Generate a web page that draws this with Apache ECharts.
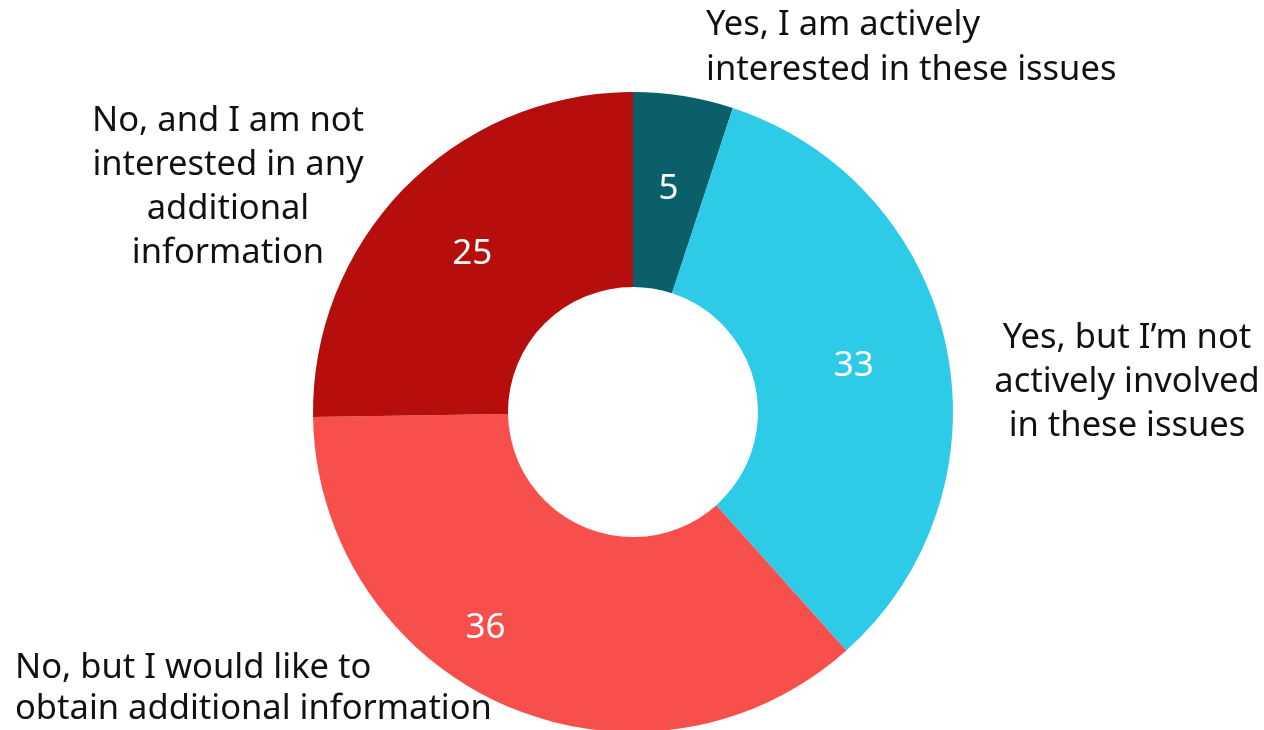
<!DOCTYPE html>
<html>
<head>
<meta charset="utf-8">
<script src="https://cdn.jsdelivr.net/npm/echarts@6/dist/echarts.min.js"></script>
<style>
html,body{margin:0;padding:0;background:#fff;}
#chart{width:1264px;height:730px;}
</style>
</head>
<body>
<div id="chart"></div>
<script>
const categories = [
  "Yes, I am actively\ninterested in these issues",
  "Yes, but I\u2019m not\nactively involved\nin these issues",
  "No, but I would like to\nobtain additional information",
  "No, and I am not\ninterested in any\nadditional\ninformation"
];
const values = [5, 33, 36, 25];

const colors = ['#0b5f6b', '#2ecbe8', '#f74f4c', '#b50e0d'];
const FONT = '"Noto Sans", "Open Sans", sans-serif';

// outside label anchor layout (style only)
const outerLabelPos = [
  {x: 706, y: 48, align: 'left', lh: 45},
  {x: 1127, y: 382, align: 'center', lh: 44},
  {x: 15, y: 689, align: 'left', lh: 41},
  {x: 228, y: 187, align: 'center', lh: 44}
];
// inside value label nudges (style only)
const innerLabelShift = [[0, 0], [0, 0], [-57, 9], [0, 0]];

const chart = echarts.init(document.getElementById('chart'));
const pieData = categories.map((c, i) => ({name: c, value: values[i], itemStyle: {color: colors[i]}}));

chart.setOption({
  animation: false,
  series: [
    {
      type: 'pie',
      center: [633, 412],
      radius: [125, 320],
      startAngle: 90,
      clockwise: true,
      silent: true,
      itemStyle: {borderWidth: 0},
      label: {
        show: true,
        position: 'inside',
        formatter: '{c}',
        color: '#fff',
        fontSize: 35,
        fontFamily: FONT
      },
      labelLine: {show: false},
      labelLayout: function (params) {
        const s = innerLabelShift[params.dataIndex];
        return {dx: s[0], dy: s[1]};
      },
      data: pieData
    },
    {
      type: 'pie',
      center: [633, 412],
      radius: [125, 320],
      startAngle: 90,
      clockwise: true,
      silent: true,
      z: 5,
      itemStyle: {color: 'rgba(0,0,0,0)', borderWidth: 0},
      label: {
        show: true,
        position: 'outside',
        formatter: '{b}',
        color: '#111',
        fontSize: 34.5,
        lineHeight: 44,
        overflow: 'none',
        width: 600,
        fontFamily: FONT
      },
      labelLine: {show: false},
      labelLayout: function (params) {
        const p = outerLabelPos[params.dataIndex];
        return {x: p.x, y: p.y, align: p.align, verticalAlign: 'middle', hideOverlap: false, moveOverlap: null};
      },
      data: categories.map((c, i) => ({
        name: c, value: values[i],
        label: {align: outerLabelPos[i].align, lineHeight: outerLabelPos[i].lh}
      }))
    }
  ]
});
</script>
</body>
</html>
